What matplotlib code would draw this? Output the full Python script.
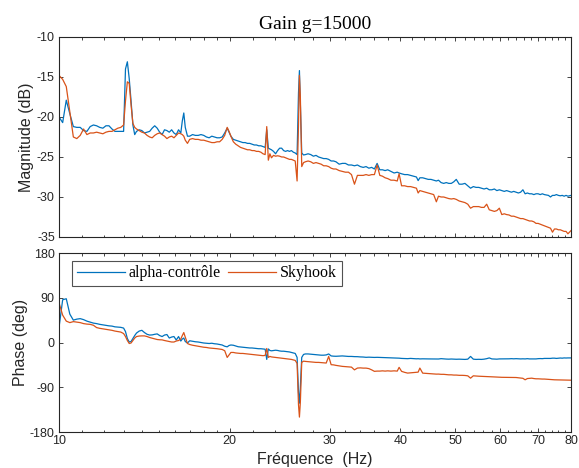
import matplotlib
matplotlib.use('Agg')
import matplotlib.pyplot as plt
from matplotlib.ticker import FixedLocator, FixedFormatter, NullFormatter

# ---------------- data ----------------
freq = [
    10.0, 10.15, 10.3, 10.45, 10.6, 10.75, 10.9, 11.05, 11.2, 11.35,
    11.5, 11.65, 11.8, 11.95, 12.1, 12.25, 12.4, 12.55, 12.7, 12.85,
    13.0, 13.1, 13.2, 13.3, 13.4, 13.5, 13.6, 13.7, 13.85, 14.0,
    14.15, 14.3, 14.45, 14.6, 14.75, 14.9, 15.05, 15.2, 15.35, 15.5,
    15.65, 15.8, 15.95, 16.1, 16.25, 16.4, 16.5, 16.6, 16.7, 16.85,
    17.0, 17.2, 17.4, 17.6, 17.8, 18.0, 18.2, 18.4, 18.6, 18.8,
    19.0, 19.2, 19.4, 19.6, 19.8, 19.95, 20.1, 20.3, 20.5, 20.7,
    20.9, 21.1, 21.3, 21.5, 21.7, 21.9, 22.1, 22.3, 22.5, 22.7,
    22.9, 23.1, 23.25, 23.4, 23.55, 23.7, 23.9, 24.1, 24.3, 24.5,
    24.7, 24.9, 25.1, 25.3, 25.5, 25.7, 25.9, 26.1, 26.3, 26.45,
    26.55, 26.65, 26.8, 27.0, 27.2, 27.5, 27.8, 28.1, 28.4, 28.7,
    29.0, 29.3, 29.6, 29.9, 30.2, 30.5, 30.8, 31.2, 31.6, 32.0,
    32.4, 32.8, 33.2, 33.6, 34.0, 34.4, 34.8, 35.2, 35.6, 36.0,
    36.4, 36.8, 37.2, 37.6, 38.0, 38.5, 39.0, 39.5, 39.8, 40.2,
    40.7, 41.2, 41.7, 42.2, 42.7, 43.0, 43.3, 43.8, 44.3, 44.8,
    45.3, 45.8, 46.3, 46.7, 47.2, 47.7, 48.2, 48.7, 49.2, 49.7,
    50.2, 50.8, 51.4, 52.0, 52.6, 53.2, 53.8, 54.4, 55.0, 55.6,
    56.2, 56.8, 57.4, 58.0, 58.6, 59.2, 59.8, 60.4, 61.0, 61.6,
    62.2, 62.8, 63.4, 64.0, 64.6, 65.2, 65.8, 66.4, 67.0, 67.6,
    68.2, 68.8, 69.4, 70.0, 70.6, 71.2, 71.8, 72.4, 73.0, 73.6,
    74.2, 74.8, 75.4, 76.0, 76.6, 77.2, 77.8, 78.4, 79.0, 80.0,
]

mag_alpha = [
    -20.0, -20.7, -17.9, -19.6, -21.2, -21.3, -21.3, -21.7, -21.8, -21.2,
    -21.0, -21.1, -21.3, -21.4, -21.1, -21.1, -21.5, -21.8, -21.8, -21.8,
    -21.8, -14.0, -13.1, -15.2, -18.0, -21.0, -22.2, -21.8, -21.6, -21.7,
    -22.0, -21.9, -21.8, -21.4, -21.1, -21.4, -21.9, -22.2, -21.6, -21.7,
    -21.9, -21.6, -22.0, -22.2, -21.6, -22.0, -20.5, -19.5, -21.3, -22.4,
    -22.4, -22.2, -22.3, -22.3, -22.2, -22.3, -22.5, -22.6, -22.4, -22.5,
    -22.6, -22.6, -22.5, -22.0, -21.4, -21.9, -22.4, -22.8, -22.9, -23.0,
    -23.1, -23.2, -23.2, -23.3, -23.3, -23.4, -23.5, -23.5, -23.6, -23.6,
    -23.7, -23.8, -21.6, -23.9, -24.0, -24.1, -24.3, -24.6, -24.2, -23.9,
    -23.9, -24.2, -24.3, -24.2, -24.3, -24.2, -24.4, -24.5, -24.7, -17.0,
    -14.2, -18.5, -24.5, -24.75, -24.7, -24.6, -24.7, -24.9, -24.8, -25.0,
    -25.1, -25.2, -25.2, -25.3, -25.5, -25.5, -25.6, -25.9, -25.8, -25.8,
    -26.0, -26.0, -26.1, -26.0, -26.2, -26.3, -26.2, -26.4, -26.3, -26.5,
    -25.8, -26.6, -26.6, -26.7, -26.6, -26.8, -27.0, -26.9, -27.0, -27.1,
    -27.2, -27.2, -27.3, -27.4, -27.5, -27.95, -27.6, -27.6, -27.7, -27.8,
    -27.8, -27.9, -28.0, -27.9, -28.2, -28.3, -28.2, -28.3, -28.3, -28.1,
    -27.8, -28.4, -28.4, -28.3, -28.6, -28.9, -28.7, -28.8, -28.8, -28.9,
    -29.0, -28.9, -29.1, -29.1, -29.0, -29.2, -29.1, -29.2, -29.3, -29.2,
    -29.3, -29.4, -29.3, -29.4, -29.5, -29.4, -29.1, -29.6, -29.5, -29.6,
    -29.6, -29.7, -29.6, -29.6, -29.7, -29.6, -29.7, -29.75, -29.8, -30.0,
    -29.8, -29.8, -29.7, -29.8, -29.85, -29.8, -29.9, -29.8, -29.9, -29.8,
]

mag_sky = [
    -14.8, -15.3, -16.2, -19.4, -22.5, -22.7, -22.3, -21.5, -22.2, -22.0,
    -22.0, -21.9, -22.0, -22.1, -21.9, -21.8, -21.8, -21.6, -21.4, -21.3,
    -21.0, -18.0, -15.6, -15.8, -18.5, -20.8, -21.3, -21.5, -21.7, -21.9,
    -22.0, -22.3, -22.5, -22.6, -22.3, -22.1, -22.0, -22.2, -22.4, -22.7,
    -22.5, -22.4, -22.6, -22.3, -22.0, -22.1, -22.2, -22.4, -22.9, -23.3,
    -22.8, -22.7, -22.8, -22.8, -22.9, -22.9, -23.0, -23.1, -23.2, -23.2,
    -23.1, -23.1, -22.8, -22.3, -21.3, -21.8, -22.4, -23.1, -23.4, -23.6,
    -23.8, -23.9, -24.0, -24.1, -24.1, -24.2, -24.2, -24.3, -24.3, -24.4,
    -24.6, -24.7, -21.2, -25.4, -24.6, -25.1, -24.8, -24.9, -24.85, -24.9,
    -25.0, -25.0, -25.1, -25.2, -25.3, -25.3, -25.4, -25.5, -28.0, -21.0,
    -14.8, -17.5, -26.2, -25.7, -25.6, -25.5, -25.6, -25.8, -25.7, -25.8,
    -25.9, -26.1, -26.1, -26.2, -26.4, -26.5, -26.5, -26.7, -26.8, -26.9,
    -26.9, -27.2, -28.4, -27.3, -27.3, -27.3, -27.2, -27.3, -27.2, -27.2,
    -26.0, -27.3, -27.4, -27.6, -27.7, -27.9, -27.9, -28.0, -27.1, -28.6,
    -28.6, -28.7, -28.7, -28.8, -28.9, -29.5, -29.2, -29.3, -29.4, -29.5,
    -29.6, -29.7, -30.6, -29.9, -30.0, -30.0, -30.1, -30.2, -30.25, -30.2,
    -30.3, -30.5, -30.6, -30.7, -30.9, -31.4, -31.2, -31.2, -31.2, -31.3,
    -31.3, -30.9, -31.6, -31.7, -31.8, -31.7, -31.4, -32.2, -32.1, -32.2,
    -32.25, -32.4, -32.4, -32.5, -32.6, -32.7, -32.7, -32.8, -32.9, -33.0,
    -33.0, -33.1, -33.3, -33.3, -33.4, -33.5, -33.6, -33.7, -33.8, -33.9,
    -34.4, -34.0, -34.0, -34.1, -34.1, -34.2, -34.3, -34.3, -34.6, -34.2,
]

phase_alpha = [
    30, 86, 88, 57, 45, 47, 48, 46, 43, 41,
    39, 38, 36.5, 35.5, 34.5, 33.5, 33, 31.5, 31, 30.5,
    29, 22, 8, 1, 2, 8, 14, 19, 23, 24.5,
    20, 16.5, 15, 15.3, 16.5, 17.3, 14, 12, 15, 16,
    9, 11, 12, 5, 12, 3, 7, 9, 2, -1,
    3.5, 2.5, 1.5, 1, 0, -1, -1.5, -2, -1.5, -2.5,
    -3, -4, -5, -7.5, -8.7, -6, -5, -5.5, -7, -8.5,
    -9, -9.5, -10, -10.5, -11, -11, -11.5, -12, -12.5, -12.5,
    -13, -13.5, -34, -13, -16, -16.7, -16, -15.5, -16, -17,
    -17.5, -17.5, -18, -18.5, -19, -20, -21, -22, -30, -100,
    -122, -90, -30, -24, -23, -23, -23.5, -24, -24.5, -25,
    -25.5, -25.5, -25, -23, -27, -27.5, -27.7, -27.3, -27, -27.5,
    -28, -28, -28.4, -28.5, -29, -29.2, -29.8, -29.5, -29.8, -30,
    -29.8, -30, -30.2, -30.5, -30.5, -31, -31, -31.2, -31.5, -32,
    -32.3, -32.5, -32, -32.5, -32.8, -32.6, -33, -32.8, -33, -33,
    -33, -32.8, -33, -33.2, -32.5, -33, -33.3, -33.5, -33.2, -33.5,
    -33.7, -33.5, -33.8, -34, -33.5, -28, -33.5, -34, -33.8, -34,
    -33.5, -32.5, -31, -33, -33.2, -33.5, -33, -33, -32.8, -33,
    -32.8, -32.5, -32.8, -32.5, -32.8, -33, -32.8, -33, -32.5, -33,
    -33, -32.8, -33, -32.5, -32.3, -32.5, -32, -32, -31.8, -32,
    -31.5, -31.5, -32, -31.5, -31.2, -31.5, -31, -31.2, -31, -31,
]

phase_sky = [
    80, 55, 43, 40, 42, 41, 40, 38, 37, 36.5,
    34.7, 30, 28.5, 27.5, 26.5, 25.5, 24.5, 23, 22, 21,
    18, 12, 4, -2, -1, 4, 9, 12, 13, 13.3,
    13.3, 12, 10, 8.7, 7.5, 6, 5.5, 5.3, 4, 3,
    2, 1, 1, 3, 4, 7, 14, 20, 10.7, -2,
    -4, -5.5, -6.5, -7.5, -8.5, -9.5, -10, -11, -11.5, -12,
    -12.5, -13.3, -14, -16.5, -30, -25, -20, -20, -21, -21.5,
    -22, -22, -22.5, -23, -23.5, -24, -24.5, -25, -25.5, -26,
    -26.5, -26, -12, -30, -28, -29, -29.5, -30, -30.5, -31,
    -31.5, -32, -32.5, -33, -33.5, -34, -35, -36, -42, -125,
    -150, -120, -40, -37.5, -38, -38.5, -39, -39.5, -40, -40,
    -40.5, -41, -41.3, -28, -44.6, -45, -46, -47, -48, -48.5,
    -49, -49.5, -55, -51.4, -51, -51.5, -51.5, -52.5, -55, -58,
    -57.5, -57.5, -57, -57.5, -57, -57.5, -57, -57.5, -50, -58,
    -60, -61.5, -61, -60.5, -60, -59.6, -51.4, -61.6, -62, -62.5,
    -63, -63, -63.6, -63.5, -64, -64, -64.5, -65, -65, -65.5,
    -65.5, -66, -66, -66.3, -67, -71.7, -67, -67.5, -67.8, -68,
    -68, -68.4, -68.5, -69, -69.3, -69.5, -69.7, -70, -70, -70.2,
    -70.2, -70.3, -70.4, -70.4, -71, -71.5, -72, -75, -72.5, -72,
    -71.7, -72.5, -73, -73, -73.3, -73.5, -73.5, -73.8, -74, -74.2,
    -74.5, -75, -75, -75.2, -75.3, -75.5, -75.6, -75.8, -75.5, -75.8,
]

series_names = ['alpha-contrôle', 'Skyhook']
title_text = 'Gain g=15000'
x_major = [10, 20, 30, 40, 50, 60, 70, 80]
x_labels = ['10', '20', '30', '40', '50', '60', '70', '80']
x_minor = [11, 12, 13, 14, 15, 16, 17, 18, 19, 22, 24, 26, 28, 32, 34, 36, 38,
           42, 44, 46, 48, 52, 54, 56, 58, 62, 64, 66, 68, 72, 74, 76, 78]
mag_ticks = [-35, -30, -25, -20, -15, -10]
phase_ticks = [-180, -90, 0, 90, 180]

# ---------------- style ----------------
c_alpha = '#0072BD'
c_sky = '#D95319'
axc = '#262626'
sans = ['Liberation Sans', 'DejaVu Sans']
serif = ['Liberation Serif', 'DejaVu Serif']
plt.rcParams['axes.unicode_minus'] = False
plt.rcParams['font.family'] = sans

fig = plt.figure(figsize=(5.79, 4.68), dpi=100)
ax1 = fig.add_axes([0.1019, 0.4936, 0.8843, 0.4274])
ax2 = fig.add_axes([0.1019, 0.0769, 0.8843, 0.3825])

lw = 0.9
ax1.plot(freq, mag_alpha, color=c_alpha, lw=lw, label=series_names[0])
ax1.plot(freq, mag_sky, color=c_sky, lw=lw, label=series_names[1])
ax2.plot(freq, phase_alpha, color=c_alpha, lw=lw, label=series_names[0])
ax2.plot(freq, phase_sky, color=c_sky, lw=lw, label=series_names[1])

for ax in (ax1, ax2):
    ax.set_xscale('log')
    ax.set_xlim(10, 80)
    ax.xaxis.set_major_locator(FixedLocator(x_major))
    ax.xaxis.set_minor_locator(FixedLocator(x_minor))
    ax.xaxis.set_minor_formatter(NullFormatter())
    ax.tick_params(which='both', direction='in', top=True, right=True,
                   color=axc, labelcolor=axc, labelsize=9, width=0.6)
    ax.tick_params(which='major', length=3.2, pad=3)
    ax.tick_params(which='minor', length=1.8)
    for s in ax.spines.values():
        s.set_color(axc)
        s.set_linewidth(0.8)

ax1.xaxis.set_major_formatter(NullFormatter())
ax2.xaxis.set_major_formatter(FixedFormatter(x_labels))
ax2.tick_params(axis='x', pad=2.5)

ax1.set_ylim(-35, -10)
ax1.set_yticks(mag_ticks)
ax1.set_yticklabels([str(v) for v in mag_ticks])
ax2.set_ylim(-180, 180)
ax2.set_yticks(phase_ticks)
ax2.set_yticklabels([str(v) for v in phase_ticks])

ax1.set_ylabel('Magnitude (dB)', fontsize=11.5, color=axc, labelpad=2)
ax2.set_ylabel('Phase (deg)', fontsize=11.5, color=axc, labelpad=1.5)
ax2.set_xlabel('Fréquence  (Hz)', fontsize=11.5, color=axc, labelpad=3)
ax1.set_title(title_text, fontsize=14, family=serif, color='black', pad=6)

leg = ax2.legend(loc='upper left', bbox_to_anchor=(0.0254, 0.957),
                 borderaxespad=0, ncol=2, frameon=True, fancybox=False,
                 prop={'family': serif, 'size': 11.5},
                 handlelength=3.0, handletextpad=0.25, columnspacing=0.45,
                 borderpad=0.3)
leg.get_frame().set_edgecolor(axc)
leg.get_frame().set_linewidth(0.8)

fig.savefig('out.png', dpi=100)
